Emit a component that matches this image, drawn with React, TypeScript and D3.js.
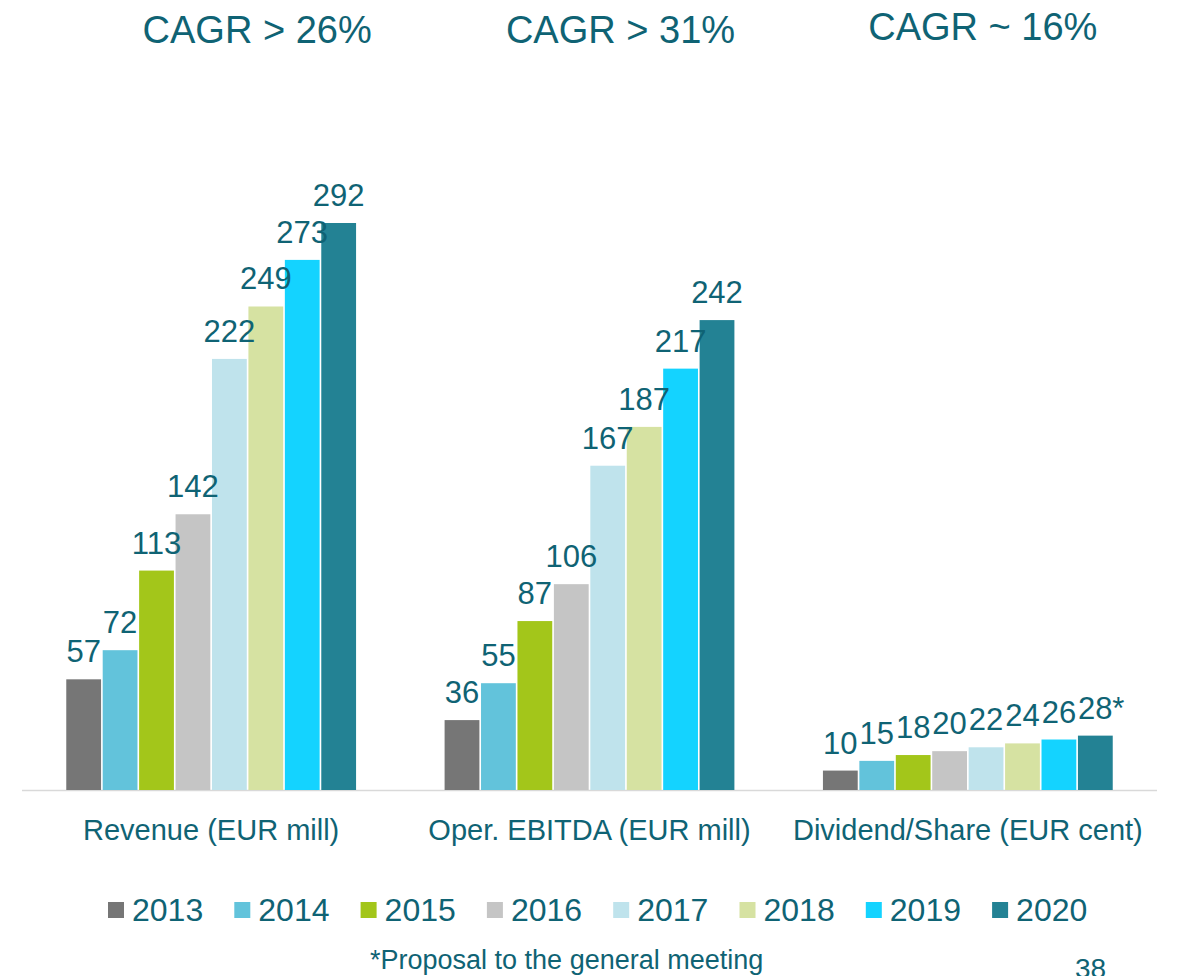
import React, { useEffect, useRef } from 'react';
import * as d3 from 'd3';

const categories = ['Revenue (EUR mill)', 'Oper. EBITDA (EUR mill)', 'Dividend/Share (EUR cent)'];
const years = ['2013', '2014', '2015', '2016', '2017', '2018', '2019', '2020'];
const revenue = [57, 72, 113, 142, 222, 249, 273, 292];
const ebitda = [36, 55, 87, 106, 167, 187, 217, 242];
const dividend = [10, 15, 18, 20, 22, 24, 26, 28];
const cagrTitles = ['CAGR > 26%', 'CAGR > 31%', 'CAGR ~ 16%'];
const colors = ['#767676', '#62c3db', '#a3c61a', '#c5c5c5', '#bfe3ec', '#d6e2a2', '#14d3ff', '#238294'];
const footnote = '*Proposal to the general meeting';
const pageNo = '38';

const W = 1178, H = 976;
const TEXT = '#0f6374';
const FONT = '"Liberation Sans", Arial, sans-serif';

export default function App() {
  const ref = useRef<SVGSVGElement>(null);

  useEffect(() => {
    const svg = d3.select(ref.current);
    svg.selectAll('*').remove();

    const series = [revenue, ebitda, dividend];
    const x0 = d3.scaleBand().domain(categories).range([22, 1157]).paddingInner(0.234).paddingOuter(0.117);
    const x1 = d3.scaleBand().domain(years).range([0, x0.bandwidth()]).paddingInner(0.045);
    const y = d3.scaleLinear().domain([0, 292]).range([790, 223]);

    // baseline
    svg.append('line').attr('x1', 22).attr('x2', 1157).attr('y1', 790.5).attr('y2', 790.5)
      .attr('stroke', '#d9d9d9').attr('stroke-width', 1.5);

    const groups = svg.selectAll('.grp').data(categories).join('g').attr('class', 'grp')
      .attr('transform', d => `translate(${x0(d)},0)`);

    groups.each(function (cat, gi) {
      const g = d3.select(this);
      const vals = series[gi];
      g.selectAll('rect').data(vals).join('rect')
        .attr('x', (_, i) => x1(years[i])!)
        .attr('y', d => y(d))
        .attr('width', x1.bandwidth())
        .attr('height', d => y(0) - y(d))
        .attr('fill', (_, i) => colors[i]);

      g.selectAll('text.val').data(vals).join('text').attr('class', 'val')
        .attr('x', (_, i) => x1(years[i])! + x1.bandwidth() / 2)
        .attr('y', d => y(d) - 17)
        .attr('text-anchor', 'middle')
        .attr('font-family', FONT).attr('font-size', 31).attr('fill', TEXT)
        .text(d => d);

      // category label
      g.append('text')
        .attr('x', x0.bandwidth() / 2).attr('y', 840)
        .attr('text-anchor', 'middle')
        .attr('font-family', FONT).attr('font-size', 29).attr('fill', TEXT)
        .text(cat);
    });

    // asterisk on last dividend value
    const lastX = x0(categories[2])! + x1(years[7])! + x1.bandwidth() / 2;
    svg.append('text').attr('x', lastX + 17).attr('y', y(dividend[7]) - 17)
      .attr('font-family', FONT).attr('font-size', 31).attr('fill', TEXT).text('*');

    // CAGR titles
    const titleOffsets = [46, 31, 15];
    const titleY = [43, 43, 40];
    svg.selectAll('.cagr').data(cagrTitles).join('text').attr('class', 'cagr')
      .attr('x', (_, i) => x0(categories[i])! + x0.bandwidth() / 2 + titleOffsets[i])
      .attr('y', (_, i) => titleY[i])
      .attr('text-anchor', 'middle')
      .attr('font-family', FONT).attr('font-size', 38).attr('fill', TEXT)
      .text(d => d);

    // legend
    const legend = svg.selectAll('.leg').data(years).join('g').attr('class', 'leg')
      .attr('transform', (_, i) => `translate(${108 + i * 126.3},0)`);
    legend.append('rect').attr('x', 0).attr('y', 902).attr('width', 16).attr('height', 16)
      .attr('fill', (_, i) => colors[i]);
    legend.append('text').attr('x', 24).attr('y', 921)
      .attr('font-family', FONT).attr('font-size', 32).attr('fill', TEXT)
      .text(d => d);

    svg.append('text').attr('x', 370).attr('y', 969)
      .attr('font-family', FONT).attr('font-size', 27).attr('fill', TEXT).text(footnote);
    svg.append('text').attr('x', 1075).attr('y', 978)
      .attr('font-family', FONT).attr('font-size', 28).attr('fill', TEXT).text(pageNo);
  }, []);

  return (
    <div style={{ position: 'fixed', left: 0, top: 0 }}>
      <svg ref={ref} width={W} height={H} style={{ display: 'block', background: '#fff' }} />
    </div>
  );
}
